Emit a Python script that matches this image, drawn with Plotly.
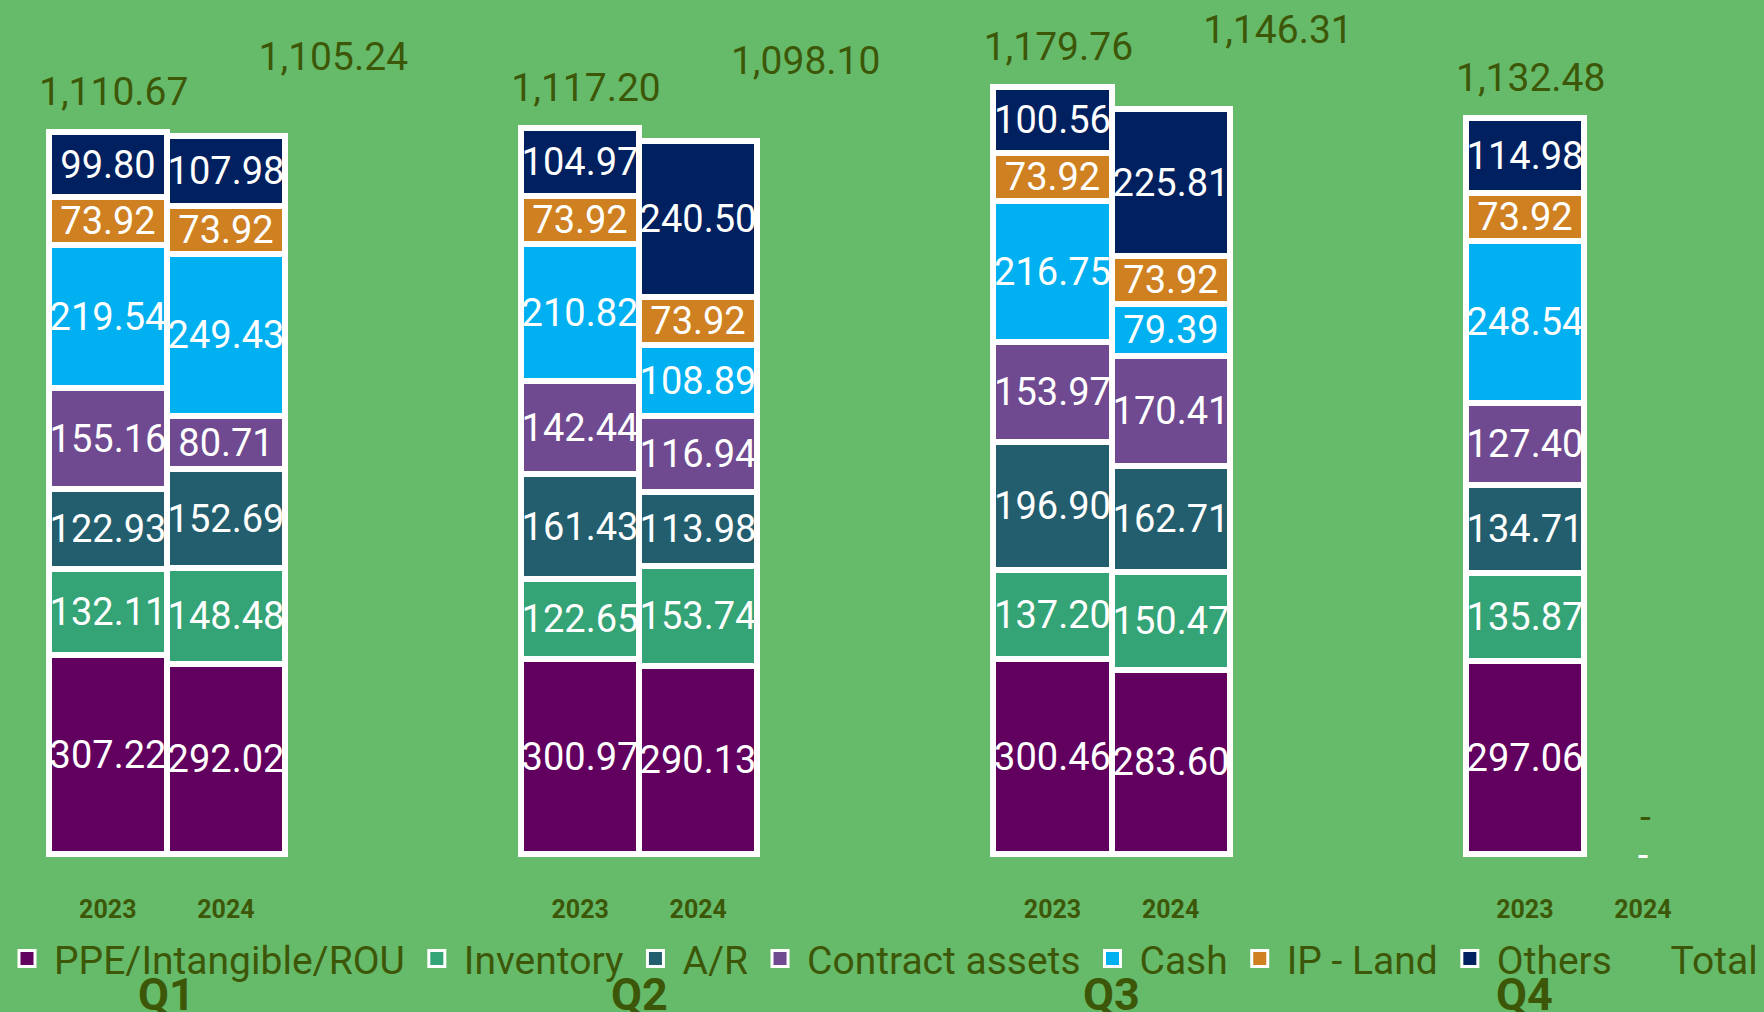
import plotly.graph_objects as go

# ---------------- data ----------------
quarters = ["Q1", "Q2", "Q3", "Q4"]
years = ["2023", "2024"]
series_names = ["PPE/Intangible/ROU", "Inventory", "A/R", "Contract assets",
                "Cash", "IP - Land", "Others"]

# order: Q1-2023, Q1-2024, Q2-2023, Q2-2024, Q3-2023, Q3-2024, Q4-2023, Q4-2024
ppe = [307.22, 292.02, 300.97, 290.13, 300.46, 283.60, 297.06, None]
inventory = [132.11, 148.48, 122.65, 153.74, 137.20, 150.47, 135.87, None]
ar = [122.93, 152.69, 161.43, 113.98, 196.90, 162.71, 134.71, None]
contract_assets = [155.16, 80.71, 142.44, 116.94, 153.97, 170.41, 127.40, None]
cash = [219.54, 249.43, 210.82, 108.89, 216.75, 79.39, 248.54, None]
ip_land = [73.92, 73.92, 73.92, 73.92, 73.92, 73.92, 73.92, None]
others = [99.80, 107.98, 104.97, 240.50, 100.56, 225.81, 114.98, None]
totals = [1110.67, 1105.24, 1117.20, 1098.10, 1179.76, 1146.31, 1132.48, None]

series_values = [ppe, inventory, ar, contract_assets, cash, ip_land, others]

# ---------------- style ----------------
series_colors = ["#620060", "#34A375", "#235E6E", "#6F4A91",
                 "#00B0F0", "#CF8021", "#002060"]
BG = "#66BB6A"
OLIVE = "#3D5709"
FONT = "Roboto"
SLOTS_PER_QUARTER = 4
TOTAL_DX = [0.05, 0.91]     # label offset (x units) for 2023 / 2024
TOTAL_DY = [57, 117]        # label offset (y units) for 2023 / 2024
MISSING_DX = 0.02
MISSING_DY = 52
ZERO_LABEL_DY = -6
Q_LABEL_X = [0.5, 4.5, 8.5, 12.0]

x_pos = [SLOTS_PER_QUARTER * qi + yi
         for qi in range(len(quarters)) for yi in range(len(years))]
year_labels = [years[yi] for qi in range(len(quarters)) for yi in range(len(years))]

fig = go.Figure()
for name, vals, color in zip(series_names, series_values, series_colors):
    fig.add_trace(go.Bar(
        x=x_pos, y=vals, name=name, width=1.0, legendgroup=name, showlegend=False,
        marker=dict(color=color, line=dict(color="white", width=6)),
        texttemplate="%{y:.2f}", textposition="inside",
        insidetextanchor="middle", textangle=0, constraintext="none",
        textfont=dict(family=FONT, size=38, color="white"),
        hoverinfo="name+y",
    ))
    # legend swatch
    fig.add_trace(go.Scatter(
        x=[None], y=[None], mode="markers", name=name, legendgroup=name,
        marker=dict(symbol="square", size=16, color=color,
                    line=dict(color="white", width=3)),
        hoverinfo="skip",
    ))

# dashes for empty (zero) segments
missing_x = [x for x, t in zip(x_pos, totals) if t is None]
fig.add_trace(go.Scatter(
    x=missing_x, y=[ZERO_LABEL_DY] * len(missing_x), mode="text",
    text=["-"] * len(missing_x),
    textposition="middle center", textfont=dict(family=FONT, size=38, color="white"),
    showlegend=False, hoverinfo="skip", cliponaxis=False,
))

# total labels
tot_x, tot_y, tot_text = [], [], []
for i, (x, t) in enumerate(zip(x_pos, totals)):
    yi = i % len(years)
    if t is None:
        tot_x.append(x + MISSING_DX)
        tot_y.append(MISSING_DY)
        tot_text.append("-")
    else:
        tot_x.append(x + TOTAL_DX[yi])
        tot_y.append(t + TOTAL_DY[yi])
        tot_text.append(f"{t:,.2f}")
fig.add_trace(go.Scatter(
    x=tot_x, y=tot_y, mode="text", text=tot_text, textposition="middle center",
    textfont=dict(family=FONT, size=39, color=OLIVE),
    showlegend=False, hoverinfo="skip", cliponaxis=False,
))
# legend entry for Total
fig.add_trace(go.Scatter(
    x=[None], y=[None], mode="markers", name="Total",
    marker=dict(color="rgba(0,0,0,0)", size=1), legend="legend2",
))

annotations = [
    dict(x=qx, y=-0.1505, xref="x", yref="paper", text=q, showarrow=False,
         xanchor="center", yanchor="middle",
         font=dict(family=FONT, size=45, color=OLIVE, weight="bold"))
    for q, qx in zip(quarters, Q_LABEL_X)
]

fig.update_layout(
    width=1764, height=1012,
    margin=dict(l=0, r=0, t=0, b=148),
    paper_bgcolor=BG, plot_bgcolor=BG,
    barmode="stack", bargap=0,
    showlegend=True,
    legend=dict(orientation="h", x=0, xanchor="left", y=-0.0725, yanchor="top",
                font=dict(family=FONT, size=39, color=OLIVE),
                itemwidth=44, traceorder="normal", bgcolor="rgba(0,0,0,0)"),
    legend2=dict(orientation="h", x=0.918, xanchor="left", y=-0.0725, yanchor="top",
                 font=dict(family=FONT, size=39, color=OLIVE),
                 itemwidth=44, bgcolor="rgba(0,0,0,0)"),
    xaxis=dict(range=[-0.913, 14.0], tickvals=x_pos, ticktext=year_labels,
               ticks="outside", ticklen=23, tickcolor="rgba(0,0,0,0)",
               tickfont=dict(family=FONT, size=25, color=OLIVE, weight="bold"),
               showgrid=False, zeroline=False, showline=False, fixedrange=True),
    yaxis=dict(range=[-15, 1314.3], visible=False, showgrid=False, zeroline=False,
               fixedrange=True),
    annotations=annotations,
    uniformtext=dict(mode="show", minsize=38),
)

fig.write_html("out.html", config={"displayModeBar": False},
               post_script="document.body.style.margin='0';document.body.style.overflow='hidden';")
